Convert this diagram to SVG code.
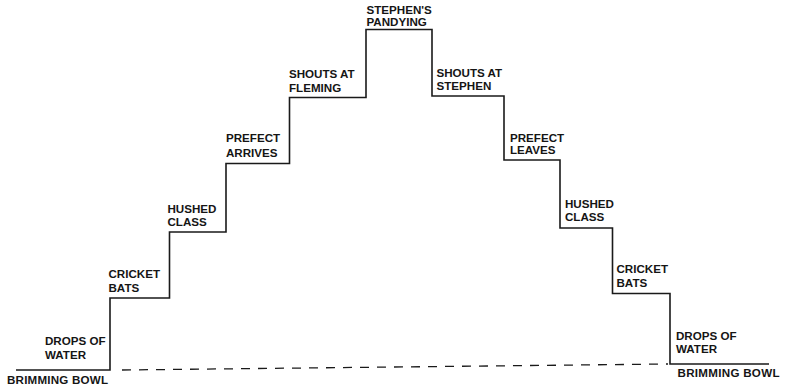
<svg xmlns="http://www.w3.org/2000/svg" width="788" height="391" viewBox="0 0 788 391">
<style>
  .lbl { font-family: "Liberation Sans", Arial, sans-serif; font-weight: bold; font-size: 11.6px; fill: #151515; }
  .step { fill: none; stroke: #1a1a1a; stroke-width: 1.6; stroke-linejoin: miter; }
  .dash { fill: none; stroke: #1a1a1a; stroke-width: 1.3; stroke-dasharray: 9 8; }
</style>
<rect width="788" height="391" fill="#ffffff"/>
<g id="connectors">
  <path class="step" d="M16,370 H110 V298 H169.5 V232 H226 V163.5 H289.5 V97.5 H366 V29.5 H432 V96 H504 V160 H560 V228 H612.5 V293.5 H670 V364 H769"/>
  <path class="dash" d="M122,370 L668,364"/>
</g>
<g id="brimming-left"><text class="lbl" x="7" y="384" textLength="101" lengthAdjust="spacing">BRIMMING BOWL</text></g>
<g id="drops-left"><text class="lbl" x="45" y="344.5">DROPS OF<tspan x="45" y="359">WATER</tspan></text></g>
<g id="cricket-left"><text class="lbl" x="108.5" y="278.3">CRICKET<tspan x="108.5" y="291.5">BATS</tspan></text></g>
<g id="hushed-left"><text class="lbl" x="167.5" y="212.7">HUSHED<tspan x="167.5" y="225.5">CLASS</tspan></text></g>
<g id="prefect-arrives"><text class="lbl" x="226" y="142.3">PREFECT<tspan x="226" y="156.5">ARRIVES</tspan></text></g>
<g id="shouts-fleming"><text class="lbl" x="289" y="78.3">SHOUTS AT<tspan x="289" y="91.7">FLEMING</tspan></text></g>
<g id="pandying"><text class="lbl" x="366.5" y="14">STEPHEN'S<tspan x="366.5" y="26">PANDYING</tspan></text></g>
<g id="shouts-stephen"><text class="lbl" x="436.5" y="77.3">SHOUTS AT<tspan x="436.5" y="90">STEPHEN</tspan></text></g>
<g id="prefect-leaves"><text class="lbl" x="510" y="141.7">PREFECT<tspan x="510" y="154.3">LEAVES</tspan></text></g>
<g id="hushed-right"><text class="lbl" x="565" y="208.3">HUSHED<tspan x="565" y="221">CLASS</tspan></text></g>
<g id="cricket-right"><text class="lbl" x="616.5" y="273.3">CRICKET<tspan x="616.5" y="286.7">BATS</tspan></text></g>
<g id="drops-right"><text class="lbl" x="676" y="340">DROPS OF<tspan x="676" y="353.3">WATER</tspan></text></g>
<g id="brimming-right"><text class="lbl" x="677.5" y="376.7" textLength="102" lengthAdjust="spacing">BRIMMING BOWL</text></g>
</svg>
